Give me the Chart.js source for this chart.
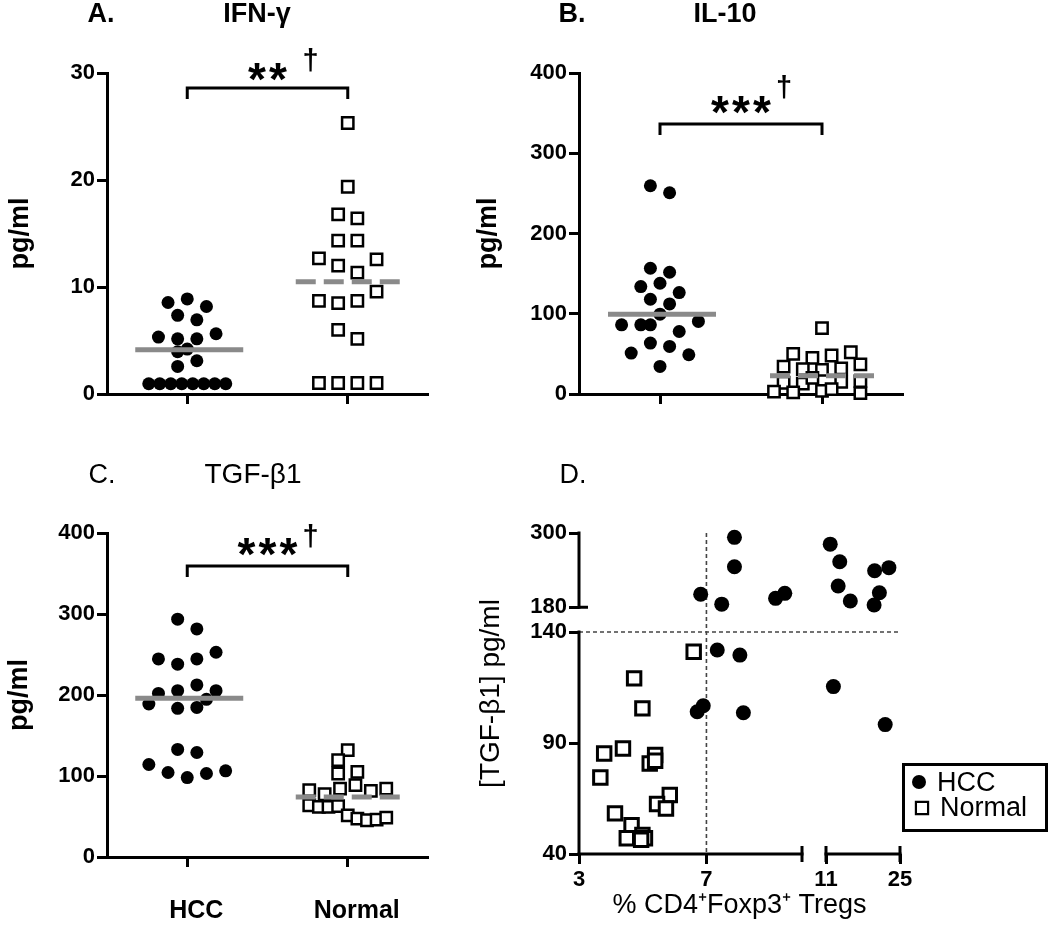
<!DOCTYPE html>
<html>
<head>
<meta charset="utf-8">
<script src="https://cdn.jsdelivr.net/npm/chart.js@4.4.1/dist/chart.umd.min.js"></script>
<style>
  html, body { margin: 0; padding: 0; background: #fff; }
  #wrap { position: relative; width: 1050px; height: 926px; overflow: hidden; background: #fff; }
  #wrap canvas { position: absolute; }
</style>
</head>
<body>
<div id="wrap">
  <canvas id="cA" width="460" height="430" style="left:0px;top:0px;width:460px;height:430px"></canvas>
  <canvas id="cB" width="460" height="430" style="left:470px;top:0px;width:460px;height:430px"></canvas>
  <canvas id="cC" width="460" height="496" style="left:0px;top:430px;width:460px;height:496px"></canvas>
  <canvas id="cD" width="580" height="496" style="left:470px;top:430px;width:580px;height:496px"></canvas>
</div>
<script>
// ---------------- DATA ----------------
const groups = ['HCC', 'Normal'];

// Panel A: IFN-gamma (pg/ml)
const ifnHCC = [8.55, 8.89, 8.18, 7.35, 6.93, 5.32, 5.16, 5.16, 5.63, 3.95, 4.2, 2.58, 3.11,
                0.96, 0.96, 0.96, 0.96, 0.96, 0.96, 0.96, 0.96];
const ifnNormal = [25.33, 19.37, 16.79, 16.41, 14.33, 14.33, 12.68, 12.0, 11.35, 12.59,
                   8.70, 8.49, 8.70, 9.57, 6.0, 5.16, 1.03, 1.03, 1.03, 1.03];
const ifnMedians = [4.13, 10.5];
const ifnTicks = [0, 10, 20, 30];

// Panel B: IL-10 (pg/ml)
const il10HCC = [259.5, 250.8, 156.7, 151.7, 133.9, 138.0, 126.4, 118.1, 112.3, 99.5,
                 86.2, 86.2, 86.2, 77.9, 90.4, 51.0, 63.4, 59.3, 48.9, 34.4];
const il10Normal = [82, 50, 45, 48, 52, 34, 31, 30, 32, 37, 14, 13, 20, 15, 16, 3, 2, 4, 6, 1];
const il10Medians = [99.5, 22.8];
const il10Ticks = [0, 100, 200, 300, 400];

// Panel C: TGF-beta1 (pg/ml)
const tgfHCC = [293.6, 281.6, 244.5, 238, 244.5, 252.8, 202, 205.4, 212.4, 205.4,
                188.9, 183.5, 184.7, 194.6, 132.8, 129, 114.2, 104.3, 98.1, 103.1, 106.4];
const tgfNormal = [132, 119.6, 103.1, 105.2, 82.5, 77.5, 84.5, 88.7, 81.6, 84.5,
                   63.9, 61.9, 61.9, 62.7, 51.5, 47.4, 45.4, 46.2, 48.7];
const tgfMedians = [195.9, 74.2];
const tgfTicks = [0, 100, 200, 300, 400];

// Panel D: % CD4+Foxp3+ Tregs vs [TGF-beta1]
const tregHCC = [7.88, 7.88, 6.82, 7.48, 9.17, 9.46, 11.8, 13.6, 13.3, 15.6, 20.2, 22.9, 21.1, 20.1,
                 7.34, 8.05, 12.4, 6.71, 6.9, 8.16, 22.2];
const tgfHCCvsTreg = [293, 245.5, 201, 185, 194.4, 202.5, 282, 253.6, 214.3, 190, 239, 244, 203.5, 183.6,
                      131.9, 129.6, 115.4, 104.1, 106.8, 103.6, 98.3];
const tregNormal = [6.6, 4.73, 4.99, 3.79, 4.38, 3.67, 5.39, 5.22, 5.39, 5.85, 5.45, 5.73, 4.13, 4.65,
                    4.5, 4.99, 5.07, 4.95];
const tgfNormalVsTreg = [131.1, 119.1, 105.6, 85.3, 87.5, 74.5, 84.6, 80.8, 82, 66.6, 62.5, 60.5, 58.3, 53,
                         47.1, 48.6, 47.1, 46.4];
const dXTicks = [3, 7, 11, 25];
const dYTicks = [40, 90, 140, 180, 300];
const dXSegments = [[3, 10], [11, 25]];     // broken x axis
const dYSegments = [[40, 140], [180, 300]]; // broken y axis
const dThresholdX = 7;
const dThresholdY = 140;

// ---------------- SETUP ----------------
const FONT = "'Liberation Sans', Arial, Helvetica, sans-serif";
Chart.defaults.font.family = FONT;
Chart.defaults.color = '#000';

// piecewise (broken) linear scale for panel D
class BrokenScale extends Chart.LinearScale {
  static id = 'broken';
  static defaults = {};
  _map(v) {
    const k = this.options.knots;
    let i = 1;
    while (i < k.length - 1 && v > k[i][0]) i++;
    const a = k[i - 1], b = k[i];
    return a[1] + (v - a[0]) * (b[1] - a[1]) / (b[0] - a[0]);
  }
  determineDataLimits() {
    const k = this.options.knots;
    this.min = k[0][1];
    this.max = k[k.length - 1][1];
  }
  buildTicks() { return this.options.tickValues.map(v => ({ value: v })); }
  getPixelForValue(v) { return super.getPixelForValue(this._map(v)); }
  getLabelForValue(v) { return String(v); }
}
Chart.register(BrokenScale);

function textPlugin(items) {
  return {
    id: 'panelText',
    afterDraw(chart) {
      const c = chart.ctx;
      c.save();
      c.fillStyle = '#000';
      c.textBaseline = 'alphabetic';
      c.textAlign = 'center';
      items.forEach(t => { c.font = t.font; c.fillText(t.text, t.x, t.y); });
      c.restore();
    }
  };
}

function sigPlugin(sig) {
  return {
    id: 'sig',
    afterDraw(chart) {
      const xs = chart.scales.x, ys = chart.scales.y, c = chart.ctx;
      const x1 = xs.getPixelForValue(1), x2 = xs.getPixelForValue(2), y = ys.getPixelForValue(sig.y);
      c.save();
      c.strokeStyle = '#000'; c.lineWidth = 3; c.lineJoin = 'miter';
      c.beginPath();
      c.moveTo(x1, y + 11); c.lineTo(x1, y); c.lineTo(x2, y); c.lineTo(x2, y + 11);
      c.stroke();
      const cx = (x1 + x2) / 2;
      c.fillStyle = '#000'; c.textAlign = 'center'; c.textBaseline = 'alphabetic';
      c.font = 'bold 46px ' + FONT;
      const m = c.measureText('*');
      const sy = y + sig.starDy + (m.actualBoundingBoxAscent - m.actualBoundingBoxDescent) / 2;
      const n = sig.stars.length;
      for (let i = 0; i < n; i++) c.fillText(sig.stars[i], cx + (i - (n - 1) / 2) * 21, sy);
      c.font = 'bold 29px ' + FONT;
      const md = c.measureText('†');
      const dy = y + sig.daggerDy + (md.actualBoundingBoxAscent - md.actualBoundingBoxDescent) / 2;
      c.fillText('†', cx + 43, dy);
      c.restore();
    }
  };
}

function medianPlugin(medians) {
  return {
    id: 'medians',
    afterDatasetsDraw(chart) {
      const xs = chart.scales.x, ys = chart.scales.y, c = chart.ctx;
      c.save();
      c.strokeStyle = '#8a8a8a'; c.lineWidth = 5;
      medians.forEach((m, i) => {
        const x = xs.getPixelForValue(i + 1), y = ys.getPixelForValue(m);
        c.setLineDash(i === 1 ? [20, 8] : []);
        c.beginPath(); c.moveTo(x - 52, y); c.lineTo(x + 56, y); c.stroke();
      });
      c.restore();
    }
  };
}

// beeswarm-like horizontal spreading computed from the real scale
function swarm(chart, valueSets) {
  const CHAIN = 10, SPAN = 15, GAP = 19.2, WIDTH = 77, HALF = 9.6, DIAM = 12;
  const xs = chart.scales.x, ys = chart.scales.y;
  const pxPerX = xs.getPixelForValue(2) - xs.getPixelForValue(1);
  function split(ch) {
    if (ch.length < 2 || ch[ch.length - 1].py - ch[0].py <= SPAN) return [ch];
    let bi = 1, bg = -1;
    for (let i = 1; i < ch.length; i++) {
      const g = ch[i].py - ch[i - 1].py;
      if (g > bg) { bg = g; bi = i; }
    }
    return [...split(ch.slice(0, bi)), ...split(ch.slice(bi))];
  }
  chart.data.datasets.forEach((ds, di) => {
    const vals = valueSets[di];
    const items = vals.map((v, i) => ({ v, i, py: ys.getPixelForValue(v), dx: 0 }));
    const sorted = items.slice().sort((a, b) => a.py - b.py);
    const chains = [];
    let cur = null;
    sorted.forEach(it => {
      if (cur && it.py - cur[cur.length - 1].py <= CHAIN) cur.push(it);
      else { cur = [it]; chains.push(cur); }
    });
    const rows = [];
    chains.forEach(ch => rows.push(...split(ch)));
    const placed = [];
    rows.forEach(r => {
      r.sort((a, b) => a.i - b.i);
      const n = r.length;
      const gap = n > 1 ? Math.min(GAP, WIDTH / (n - 1)) : 0;
      r.forEach((it, k) => { it.dx = (k - (n - 1) / 2) * gap; });
      r.forEach(it => {
        const hit = dx => placed.some(o => Math.hypot(o.dx - dx, o.py - it.py) < DIAM);
        if (hit(it.dx)) {
          for (let k = 1; k <= 8; k++) {
            if (!hit(it.dx - HALF * k)) { it.dx -= HALF * k; break; }
            if (!hit(it.dx + HALF * k)) { it.dx += HALF * k; break; }
          }
        }
      });
      placed.push(...r);
    });
    ds.data = items.map(it => ({ x: (di + 1) + it.dx / pxPerX, y: it.v }));
  });
  chart.update('none');
}

function axisCommon() {
  return {
    border: { display: true, color: '#000', width: 3 },
    grid: { display: true, drawOnChartArea: false, drawTicks: true, tickLength: 10, tickWidth: 3, color: '#000', tickColor: '#000' }
  };
}

function dotPlot(id, o) {
  const ac = axisCommon();
  const cfg = {
    type: 'scatter',
    data: {
      datasets: [
        { label: groups[0], data: o.hcc.map(v => ({ x: 1, y: v })), pointStyle: 'circle', pointRadius: 6.5,
          backgroundColor: '#000', borderColor: '#000', borderWidth: 0, clip: false },
        { label: groups[1], data: o.normal.map(v => ({ x: 2, y: v })), pointStyle: 'rect', pointRadius: 8,
          backgroundColor: '#fff', borderColor: '#000', borderWidth: 2.5, clip: false }
      ]
    },
    options: {
      responsive: false, animation: false, events: [],
      layout: { padding: { top: o.top, right: o.right, left: 0, bottom: 0 } },
      plugins: { legend: { display: false }, tooltip: { enabled: false } },
      scales: {
        x: {
          type: 'linear', min: 0.5, max: 2.5,
          afterBuildTicks: s => { s.ticks = [{ value: 1 }, { value: 2 }]; },
          afterFit: s => { s.height = o.xh; },
          border: ac.border, grid: ac.grid,
          ticks: { callback: v => (o.xlabels ? o.xlabels[Math.round(v) - 1] : ''), font: { size: 25, weight: 'bold' },
                   color: '#000', padding: 29, labelOffset: 9, maxRotation: 0, autoSkip: false }
        },
        y: {
          type: 'linear', min: o.ticks[0], max: o.ticks[o.ticks.length - 1],
          afterBuildTicks: s => { s.ticks = o.ticks.map(v => ({ value: v })); },
          afterFit: s => { s.width = o.yw; },
          border: ac.border, grid: ac.grid,
          ticks: { font: { size: 22, weight: 'bold' }, color: '#000', padding: 2, callback: v => String(v) },
          title: { display: true, text: 'pg/ml', font: { size: 27, weight: 'bold' }, color: '#000', padding: { top: o.tpad, bottom: 0 } }
        }
      }
    },
    plugins: [medianPlugin(o.medians), sigPlugin(o.sig), textPlugin(o.titles)]
  };
  const ch = new Chart(document.getElementById(id), cfg);
  swarm(ch, [o.hcc, o.normal]);
  return ch;
}

// ---------------- PANELS A, B, C ----------------
dotPlot('cA', {
  hcc: ifnHCC, normal: ifnNormal, medians: ifnMedians, ticks: ifnTicks,
  top: 73, right: 32, xh: 36, yw: 107, tpad: 4,
  sig: { y: 28.6, stars: '**', starDy: -16, daggerDy: -28 },
  titles: [
    { text: 'A.', x: 101, y: 22, font: 'bold 27px ' + FONT },
    { text: 'IFN-γ', x: 257, y: 22, font: 'bold 27px ' + FONT }
  ]
});

dotPlot('cB', {
  hcc: il10HCC, normal: il10Normal, medians: il10Medians, ticks: il10Ticks,
  top: 73, right: 27, xh: 36, yw: 109, tpad: 2,
  sig: { y: 336.4, stars: '***', starDy: -19, daggerDy: -37 },
  titles: [
    { text: 'B.', x: 102, y: 22, font: 'bold 27px ' + FONT },
    { text: 'IL-10', x: 255, y: 22, font: 'bold 27px ' + FONT }
  ]
});

dotPlot('cC', {
  hcc: tgfHCC, normal: tgfNormal, medians: tgfMedians, ticks: tgfTicks, xlabels: groups,
  top: 103, right: 32, xh: 69, yw: 107, tpad: 3,
  sig: { y: 359.3, stars: '***', starDy: -19, daggerDy: -30 },
  titles: [
    { text: 'C.', x: 102, y: 53, font: '27px ' + FONT },
    { text: 'TGF-β1', x: 253, y: 53, font: '28px ' + FONT }
  ]
});

// ---------------- PANEL D ----------------
const refLinesPlugin = {
  id: 'refLines',
  beforeDatasetsDraw(chart) {
    const xs = chart.scales.x, ys = chart.scales.y, c = chart.ctx;
    c.save();
    c.strokeStyle = '#444'; c.lineWidth = 1.6; c.setLineDash([4, 3]);
    const x = xs.getPixelForValue(dThresholdX);
    c.beginPath(); c.moveTo(x, ys.getPixelForValue(dYSegments[1][1])); c.lineTo(x, ys.getPixelForValue(dYSegments[0][0])); c.stroke();
    const y = ys.getPixelForValue(dThresholdY);
    c.beginPath(); c.moveTo(xs.getPixelForValue(dXSegments[0][0]), y); c.lineTo(xs.getPixelForValue(dXSegments[1][1]), y); c.stroke();
    c.restore();
  }
};

const brokenAxesPlugin = {
  id: 'brokenAxes',
  afterDraw(chart) {
    const xs = chart.scales.x, ys = chart.scales.y, c = chart.ctx;
    const x0 = xs.getPixelForValue(dXSegments[0][0]);
    const y0 = ys.getPixelForValue(dYSegments[0][0]);
    c.save();
    c.strokeStyle = '#000'; c.lineWidth = 3; c.lineCap = 'square';
    dYSegments.forEach(([a, b]) => {
      c.beginPath(); c.moveTo(x0, ys.getPixelForValue(a)); c.lineTo(x0, ys.getPixelForValue(b)); c.stroke();
    });
    dXSegments.forEach(([a, b]) => {
      c.beginPath(); c.moveTo(xs.getPixelForValue(a), y0); c.lineTo(xs.getPixelForValue(b), y0); c.stroke();
    });
    c.lineCap = 'butt';
    [dXSegments[0][1], dXSegments[1][0], dXSegments[1][1]].forEach(v => {
      const x = xs.getPixelForValue(v);
      c.beginPath(); c.moveTo(x, y0 - 8); c.lineTo(x, y0 + 8); c.stroke();
    });
    const yb = ys.getPixelForValue(dYSegments[1][0]);
    c.beginPath(); c.moveTo(x0, yb); c.lineTo(x0 + 9, yb); c.stroke();
    c.restore();
  }
};

const boxLegendPlugin = {
  id: 'boxLegend',
  afterDraw(chart) {
    const c = chart.ctx;
    c.save();
    c.strokeStyle = '#000'; c.lineWidth = 3;
    c.strokeRect(433.5, 334.5, 143, 66);
    const marks = [{ x: 449, y: 352, r: 7 }, { x: 452, y: 378, r: 8.6 }];
    const texts = [{ x: 467, y: 361 }, { x: 470, y: 386 }];
    chart.data.datasets.forEach((ds, i) => {
      c.fillStyle = ds.backgroundColor; c.strokeStyle = ds.borderColor; c.lineWidth = i ? 2.2 : 0;
      Chart.helpers.drawPoint(c, { pointStyle: ds.pointStyle, rotation: 0, radius: marks[i].r, borderWidth: i ? 2.2 : 0 }, marks[i].x, marks[i].y);
      c.fillStyle = '#000'; c.font = '27px ' + FONT; c.textAlign = 'left'; c.textBaseline = 'alphabetic';
      c.fillText(ds.label, texts[i].x, texts[i].y);
    });
    c.restore();
  }
};

new Chart(document.getElementById('cD'), {
  type: 'scatter',
  data: {
    datasets: [
      { label: groups[0], data: tregHCC.map((x, i) => ({ x, y: tgfHCCvsTreg[i] })), pointStyle: 'circle', pointRadius: 7.5,
        backgroundColor: '#000', borderColor: '#000', borderWidth: 0, clip: false },
      { label: groups[1], data: tregNormal.map((x, i) => ({ x, y: tgfNormalVsTreg[i] })), pointStyle: 'rect', pointRadius: 9.5,
        backgroundColor: '#fff', borderColor: '#000', borderWidth: 3, clip: false }
    ]
  },
  options: {
    responsive: false, animation: false, events: [],
    layout: { padding: { top: 103, right: 150, left: 0, bottom: 0 } },
    plugins: { legend: { display: false }, tooltip: { enabled: false } },
    scales: {
      x: {
        type: 'broken', knots: [[3, 0], [10, 223], [11, 247], [25, 321]], tickValues: dXTicks,
        afterFit: s => { s.height = 72; },
        border: { display: false },
        grid: { display: true, drawOnChartArea: false, drawTicks: true, tickLength: 10, tickWidth: 3, color: '#000', tickColor: '#000' },
        ticks: { font: { size: 22, weight: 'bold' }, color: '#000', padding: 3, maxRotation: 0, autoSkip: false, callback: v => String(v) },
        title: { display: true, text: '% CD4⁺Foxp3⁺ Tregs', font: { size: 27 }, color: '#000', padding: { top: 0, bottom: 4 } }
      },
      y: {
        type: 'broken', knots: [[40, 0], [140, 222], [300, 321]], tickValues: dYTicks,
        afterFit: s => { s.width = 109; },
        border: { display: false },
        grid: { display: true, drawOnChartArea: false, drawTicks: true, tickLength: 10, tickWidth: 3, color: '#000', tickColor: '#000' },
        ticks: { font: { size: 22, weight: 'bold' }, color: '#000', padding: 2, autoSkip: false, callback: v => String(v) },
        title: { display: true, text: '[TGF-β1] pg/ml', font: { size: 28 }, color: '#000', padding: { top: 4, bottom: 0 } }
      }
    }
  },
  plugins: [refLinesPlugin, brokenAxesPlugin, boxLegendPlugin,
            textPlugin([{ text: 'D.', x: 103, y: 53, font: '27px ' + FONT }])]
});
</script>
</body>
</html>
